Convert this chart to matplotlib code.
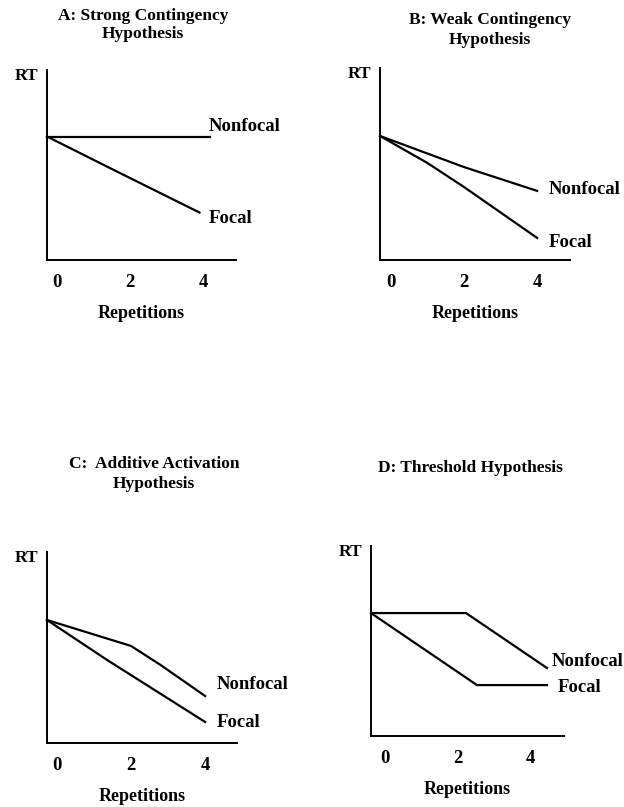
import matplotlib.pyplot as plt

W, H = 624, 807
plt.rcParams['font.family'] = 'Liberation Serif'
plt.rcParams['font.weight'] = 'bold'

ticks = [0, 2, 4]
tick_labels = ['0', '2', '4']

# A: strong contingency
a_non_x = [-0.27, 4.2]
a_non_y = [6.5, 6.5]
a_foc_x = [-0.27, 1.45, 3.9]
a_foc_y = [6.5, 4.84, 2.5]

# B: weak contingency
b_non_x = [-0.30, 2.0, 4.0]
b_non_y = [6.46, 4.84, 3.6]
b_foc_x = [-0.30, 1.0, 2.0, 4.0]
b_foc_y = [6.46, 5.05, 3.8, 1.15]

# C: additive activation
c_non_x = [-0.27, 2.0, 2.8, 4.0]
c_non_y = [6.44, 5.08, 4.08, 2.46]
c_foc_x = [-0.27, 1.35, 4.0]
c_foc_y = [6.44, 4.35, 1.1]

# D: threshold
d_non_x = [-0.39, 2.23, 4.46]
d_non_y = [6.47, 6.47, 3.58]
d_foc_x = [-0.39, 2.53, 4.46]
d_foc_y = [6.47, 2.68, 2.68]

fig = plt.figure(figsize=(W / 100, H / 100), dpi=100)


def make_ax(l, r, t, b, xmin, xmax):
    ax = fig.add_axes([l / W, 1 - b / H, (r - l) / W, (b - t) / H])
    ax.set_xlim(xmin, xmax)
    ax.set_ylim(0, 10)
    for s in ['top', 'right']:
        ax.spines[s].set_visible(False)
    for s in ['left', 'bottom']:
        ax.spines[s].set_linewidth(1.4)
    ax.set_yticks([])
    ax.set_xticks(ticks)
    ax.set_xticklabels(tick_labels, fontsize=13.5, fontweight='bold')
    ax.tick_params(axis='x', length=0, pad=10)
    ax.set_xlabel('Repetitions', fontsize=13, fontweight='bold', labelpad=10)
    ax.text(-0.045, 0.97, 'RT', transform=ax.transAxes, ha='right', va='center',
            fontsize=12.5, fontweight='bold')
    return ax


panels = [
    (47, 236, 70, 260, -0.27, 4.9, a_non_x, a_non_y, a_foc_x, a_foc_y,
     (4.16, 7.05), (4.16, 2.16)),
    (380, 570, 68, 260, -0.30, 4.9, b_non_x, b_non_y, b_foc_x, b_foc_y,
     (4.33, 3.65), (4.33, 0.89)),
    (47, 237, 552, 743, -0.27, 4.86, c_non_x, c_non_y, c_foc_x, c_foc_y,
     (4.3, 3.04), (4.3, 1.05)),
    (371, 564, 546, 736, -0.39, 4.93, d_non_x, d_non_y, d_foc_x, d_foc_y,
     (4.6, 3.9), (4.77, 2.53)),
]

for (l, r, t, b, x0, x1, nx, ny, fx, fy, npos, fpos) in panels:
    ax = make_ax(l, r, t, b, x0, x1)
    ax.plot(nx, ny, color='black', lw=1.6, clip_on=False)
    ax.plot(fx, fy, color='black', lw=1.6, clip_on=False)
    ax.text(npos[0], npos[1], 'Nonfocal', fontsize=13.5, fontweight='bold',
            va='center', ha='left', clip_on=False)
    ax.text(fpos[0], fpos[1], 'Focal', fontsize=13.5, fontweight='bold',
            va='center', ha='left', clip_on=False)

titles = [
    (143, 25, 'A: Strong Contingency\nHypothesis'),
    (490, 30, 'B: Weak Contingency\nHypothesis'),
    (154, 474, 'C:  Additive Activation\nHypothesis'),
    (470, 468, 'D: Threshold Hypothesis'),
]
for x, y, s in titles:
    fig.text(x / W, 1 - y / H, s, ha='center', va='center', fontsize=12.5,
             fontweight='bold', linespacing=1.25)

fig.savefig('out.png', dpi=100)
